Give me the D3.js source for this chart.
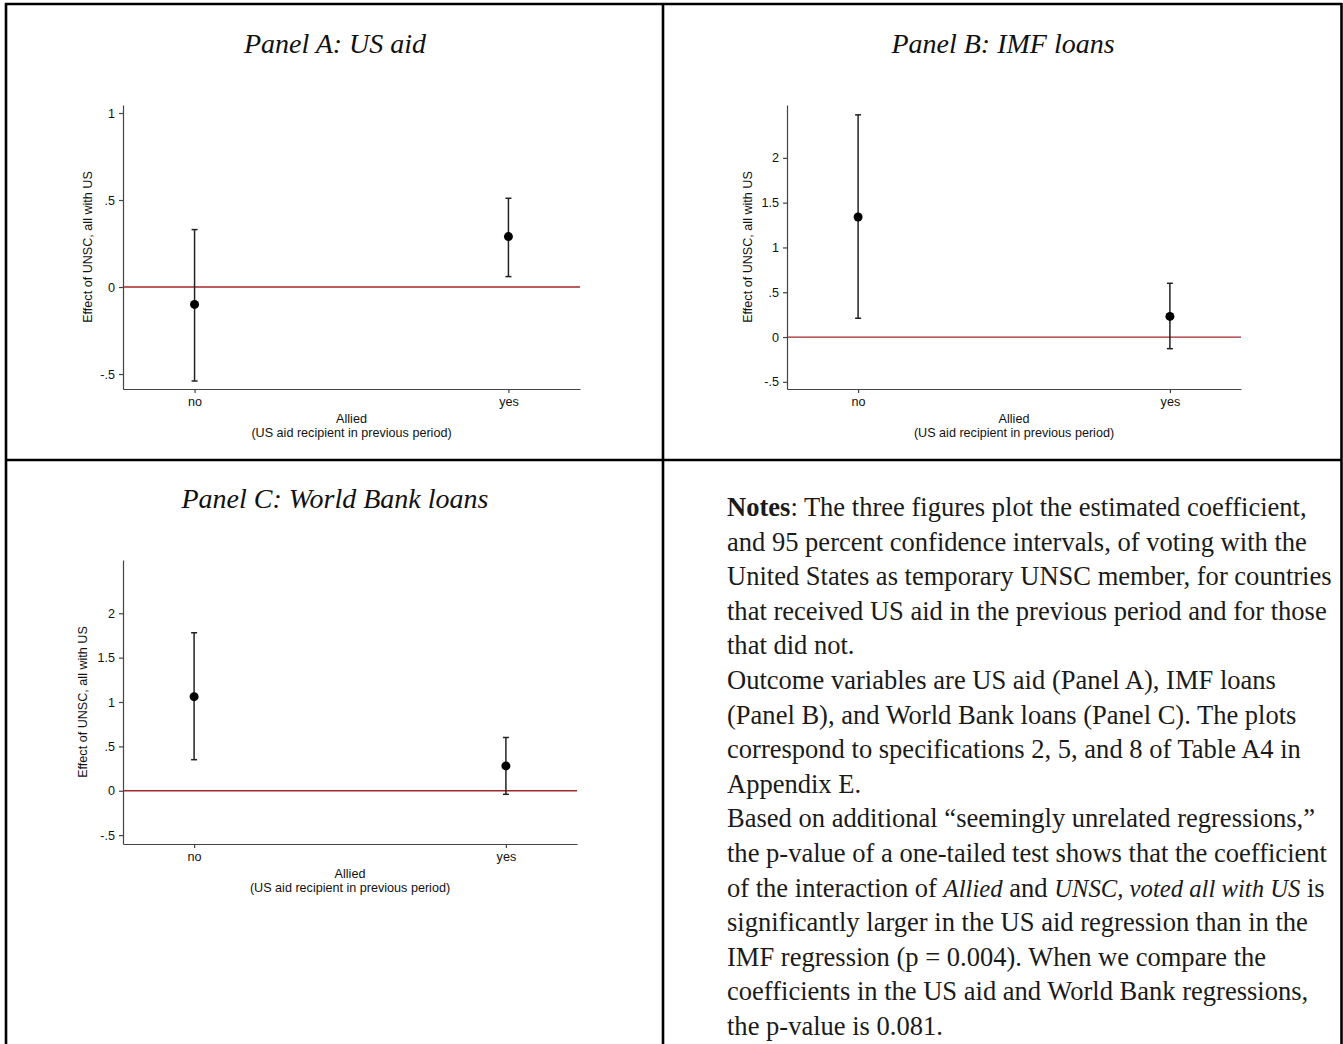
<!DOCTYPE html>
<html lang="en">
<head>
<meta charset="UTF-8">
<title>Effect of UNSC membership by allied status</title>
<script src="https://d3js.org/d3.v7.min.js"></script>
<style>
    body { margin: 0; background: #fff; }
    .axis path, .axis line { stroke: #444; stroke-width: 1.2; }
    .axis text { font-family: "Liberation Sans", Arial, sans-serif; font-size: 12.6px; fill: #111; }
    .lab { font-family: "Liberation Sans", Arial, sans-serif; font-size: 12.6px; fill: #111; }
    .title { font-family: "Liberation Serif", serif; font-style: italic; font-size: 28px; fill: #111; }
    .notes { font-family: "Liberation Serif", serif; fill: #1a1a1a; }
</style>
</head>
<body>
<div id="chart"></div>
<script>
    // categories on the x axis
    const categories = ["no", "yes"];
    const panelTitles = ["Panel A: US aid", "Panel B: IMF loans", "Panel C: World Bank loans"];

    // point estimates and 95% CI
    const usAidCoef = [-0.10, 0.29];
    const usAidLow = [-0.54, 0.06];
    const usAidHigh = [0.33, 0.51];

    const imfCoef = [1.34, 0.23];
    const imfLow = [0.21, -0.13];
    const imfHigh = [2.48, 0.60];

    const wbCoef = [1.06, 0.28];
    const wbLow = [0.35, -0.04];
    const wbHigh = [1.78, 0.60];

    // tick values
    const usAidTicks = [-0.5, 0, 0.5, 1];
    const loanTicks = [-0.5, 0, 0.5, 1, 1.5, 2];

    const yLabel = "Effect of UNSC, all with US";
    const xLabel = "Allied";
    const xSubLabel = "(US aid recipient in previous period)";

    const W = 1343, H = 1044;

    const svg = d3.select("#chart").append("svg")
        .attr("width", W)
        .attr("height", H);

    // Stata style tick labels: .5, -.5
    const stataFmt = d => String(d).replace(/^(-?)0\./, "$1.");

    const panels = [
        { ox: 0, oy: 0, title: panelTitles[0], titleX: 335, left: 123, right: 580, yDomain: [-0.586, 1.046], ticks: usAidTicks, coef: usAidCoef, lo: usAidLow, hi: usAidHigh, ylabOff: 35 },
        { ox: 663, oy: 0, title: panelTitles[1], titleX: 340, left: 124, right: 578, yDomain: [-0.58, 2.59], ticks: loanTicks, coef: imfCoef, lo: imfLow, hi: imfHigh, ylabOff: 39 },
        { ox: 0, oy: 455, title: panelTitles[2], titleX: 335, left: 123, right: 577, yDomain: [-0.6, 2.6], ticks: loanTicks, coef: wbCoef, lo: wbLow, hi: wbHigh, ylabOff: 40 }
    ];

    const plotTop = 105, plotBottom = 389;

    panels.forEach(p => {
        const g = svg.append("g").attr("transform", `translate(${p.ox},${p.oy})`);

        g.append("text")
            .attr("class", "title")
            .attr("x", p.titleX)
            .attr("y", 53)
            .attr("text-anchor", "middle")
            .text(p.title);

        const x = d3.scalePoint()
            .domain(categories)
            .range([p.left, p.right])
            .padding(0.228);

        const y = d3.scaleLinear()
            .domain(p.yDomain)
            .range([plotBottom, plotTop]);

        // zero line
        g.append("line")
            .attr("x1", p.left).attr("x2", p.right)
            .attr("y1", y(0)).attr("y2", y(0))
            .attr("stroke", "#a3272a")
            .attr("stroke-width", 1.3);

        g.append("g")
            .attr("class", "axis")
            .attr("transform", `translate(${p.left},0)`)
            .call(d3.axisLeft(y).tickValues(p.ticks).tickFormat(stataFmt).tickSize(4).tickSizeOuter(0).tickPadding(4));

        g.append("g")
            .attr("class", "axis")
            .attr("transform", `translate(0,${plotBottom})`)
            .call(d3.axisBottom(x).tickSize(4).tickSizeOuter(0).tickPadding(4));

        // axis titles
        g.append("text")
            .attr("class", "lab")
            .attr("transform", `translate(${p.left - p.ylabOff},${(plotTop + plotBottom) / 2}) rotate(-90)`)
            .attr("text-anchor", "middle")
            .attr("dy", "0.35em")
            .text(yLabel);

        const cx = (p.left + p.right) / 2;
        g.append("text").attr("class", "lab")
            .attr("x", cx).attr("y", 423)
            .attr("text-anchor", "middle")
            .text(xLabel);
        g.append("text").attr("class", "lab")
            .attr("x", cx).attr("y", 437)
            .attr("text-anchor", "middle")
            .text(xSubLabel);

        // error bars
        const rows = categories.map((c, i) => ({ c: c, coef: p.coef[i], lo: p.lo[i], hi: p.hi[i] }));
        const bars = g.selectAll(".bar").data(rows).enter().append("g");
        bars.append("line")
            .attr("x1", d => x(d.c)).attr("x2", d => x(d.c))
            .attr("y1", d => y(d.lo)).attr("y2", d => y(d.hi))
            .attr("stroke", "#222").attr("stroke-width", 1.5);
        ["lo", "hi"].forEach(k => {
            bars.append("line")
                .attr("x1", d => x(d.c) - 3).attr("x2", d => x(d.c) + 3)
                .attr("y1", d => y(d[k])).attr("y2", d => y(d[k]))
                .attr("stroke", "#222").attr("stroke-width", 1.5);
        });
        bars.append("circle")
            .attr("cx", d => x(d.c))
            .attr("cy", d => y(d.coef))
            .attr("r", 4.5)
            .attr("fill", "#000");
    });

    // notes in the fourth cell
    const noteLines = [
        [["Notes", "b"], [": The three figures plot the estimated coefficient,", ""]],
        [["and 95 percent confidence intervals, of voting with the", ""]],
        [["United States as temporary UNSC member, for countries", ""]],
        [["that received US aid in the previous period and for those", ""]],
        [["that did not.", ""]],
        [["Outcome variables are US aid (Panel A), IMF loans", ""]],
        [["(Panel B), and World Bank loans (Panel C). The plots", ""]],
        [["correspond to specifications 2, 5, and 8 of Table A4 in", ""]],
        [["Appendix E.", ""]],
        [["Based on additional \u201cseemingly unrelated regressions,\u201d", ""]],
        [["the p-value of a one-tailed test shows that the coefficient", ""]],
        [["of the interaction of ", ""], ["Allied", "i"], [" and ", ""], ["UNSC, voted all with US", "i"], [" is", ""]],
        [["significantly larger in the US aid regression than in the", ""]],
        [["IMF regression (p = 0.004). When we compare the", ""]],
        [["coefficients in the US aid and World Bank regressions,", ""]],
        [["the p-value is 0.081.", ""]]
    ];

    // pick a font size so the widest line matches the cell
    const probe = svg.append("text").attr("class", "notes").attr("font-size", 20).text(noteLines[2][0][0]);
    const fs = 20 * 605 / probe.node().getComputedTextLength();
    probe.remove();

    const notes = svg.append("text").attr("class", "notes").attr("font-size", fs);
    noteLines.forEach((line, i) => {
        line.forEach((seg, j) => {
            const t = notes.append("tspan").text(seg[0]);
            if (j === 0) t.attr("x", 727).attr("y", 516 + i * 34.6);
            if (seg[1] === "b") t.attr("font-weight", "bold");
            // the original italic face is narrow, so shrink a little
            if (seg[1] === "i") t.attr("font-style", "italic").attr("font-size", fs * 0.93);
        });
    });

    // table borders
    const border = [
        [5, 4, 1342, 4],
        [6, 3, 6, H],
        [1341.5, 3, 1341.5, H],
        [663, 3, 663, H],
        [5, 460, 1342, 460]
    ];
    svg.selectAll(".border").data(border).enter().append("line")
        .attr("x1", d => d[0]).attr("y1", d => d[1])
        .attr("x2", d => d[2]).attr("y2", d => d[3])
        .attr("stroke", "#000")
        .attr("stroke-width", 2.6);
</script>
</body>
</html>
